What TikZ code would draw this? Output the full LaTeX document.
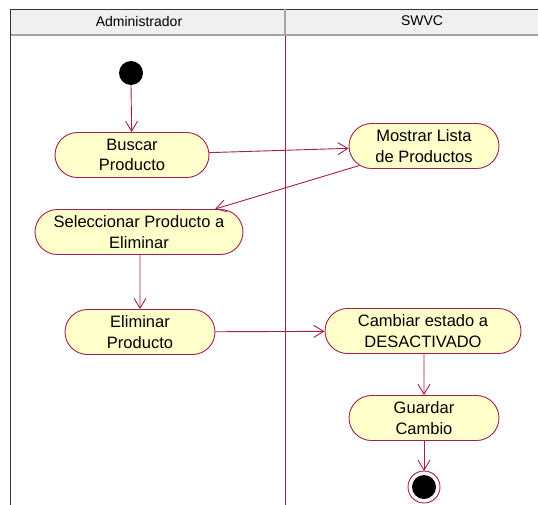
\documentclass[tikz,border=0pt]{standalone}
\usepackage{fontspec}
\setmainfont{Liberation Sans}
\usetikzlibrary{shapes.misc, arrows.meta}
\definecolor{umlred}{RGB}{163,30,78}
\definecolor{umlfill}{RGB}{255,255,204}
\definecolor{lanegrey}{RGB}{240,240,240}
\tikzset{
    action/.style={rounded rectangle, draw=umlred, fill=umlfill, line width=0.9pt,
        minimum height=45pt, inner sep=2pt, align=center,
        font=\fontsize{16.5}{20.5}\selectfont},
    flow/.style={draw=umlred, line width=0.9pt, -{Straight Barb[length=10pt,width=12pt]}},
    lanetitle/.style={font=\fontsize{14}{16}\selectfont}
}

\begin{document}
\begin{tikzpicture}[x=1pt, y=-1pt]
    \useasboundingbox (0,0) rectangle (538,504);
% Lanes
    \fill[lanegrey] (10,9) rectangle (540,34);
    \draw[gray!70, line width=2.5pt] (10,35) -- (540,35);
    \draw[black!80, thick] (10,9) -- (540,9);
    \draw[black!80, thick] (10,9) -- (10,506);
    \draw[gray!70, line width=1.5pt] (285,9) -- (285,34);
    \draw[umlred, line width=0.9pt] (285,36) -- (285,506);
    \node[lanetitle] (admin) at (139,21) {Administrador};
    \node[lanetitle] (swvc) at (422,21) {SWVC};
% Start and end
    \fill (131,73) circle (12);
    \coordinate (start) at (131,85);
    \draw[umlred, line width=0.9pt, fill=white] (424,487) circle (16);
    \fill (424,487) circle (12);
    \coordinate (finish) at (424,471);
% Actions
    \node[action, minimum width=158pt] (buscar) at (132,155) {Buscar\\Producto};
    \node[action, minimum width=154pt] (mostrar) at (424,146) {Mostrar Lista\\de Productos};
    \node[action, minimum width=212pt] (selec) at (139,232) {Seleccionar Producto a\\Eliminar};
    \node[action, minimum width=154pt] (eliminar) at (140,332) {Eliminar\\Producto};
    \node[action, minimum width=200pt] (cambiar) at (423,331) {Cambiar estado a\\DESACTIVADO};
    \node[action, minimum width=154pt] (guardar) at (424,418) {Guardar\\Cambio};
% Flows
    \draw[flow] (start) -- (buscar);
    \draw[flow] (buscar) -- (mostrar);
    \draw[flow] (mostrar) -- (selec);
    \draw[flow] (selec.south -| eliminar.north) -- (eliminar);
    \draw[flow] (eliminar) -- (cambiar);
    \draw[flow] (cambiar.south -| guardar.north) -- (guardar);
    \draw[flow] (guardar) -- (finish);
\end{tikzpicture}
\end{document}
